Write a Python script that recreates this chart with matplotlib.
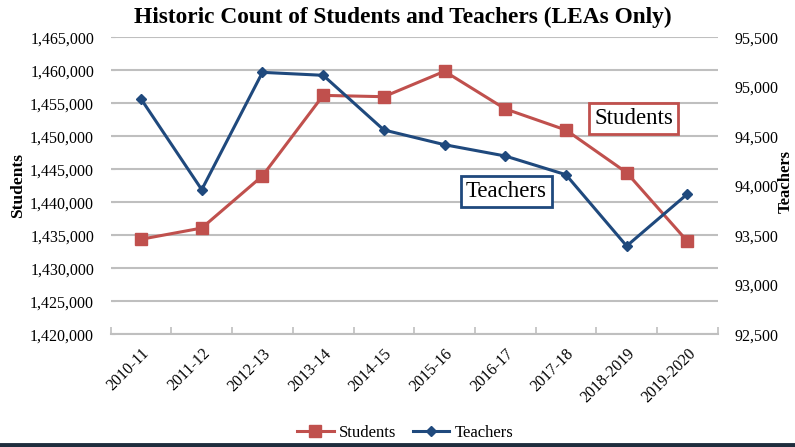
import matplotlib
matplotlib.use("Agg")
import matplotlib.pyplot as plt
from matplotlib.ticker import FuncFormatter, MultipleLocator

plt.rcParams['font.family'] = ['Liberation Serif', 'DejaVu Serif']

years = ["2010-11", "2011-12", "2012-13", "2013-14", "2014-15", "2015-16",
         "2016-17", "2017-18", "2018-2019", "2019-2020"]
students = [1434400, 1436100, 1444000, 1456200, 1456000, 1459850,
            1454150, 1450950, 1444500, 1434100]
teachers = [94877, 93961, 95146, 95116, 94564, 94415, 94301, 94112, 93392, 93917]

red = "#C0504D"
blue = "#1F497D"

fig = plt.figure(figsize=(7.95, 4.47), dpi=100)
ax = fig.add_axes([110.7/795, 1-334.3/447, (717.7-110.7)/795, (334.3-37.3)/447])
ax2 = ax.twinx()

x = list(range(len(years)))
l1, = ax.plot(x, students, color=red, lw=2.2, marker='s', ms=8, label="Students", zorder=3)
l2, = ax2.plot(x, teachers, color=blue, lw=2.2, marker='D', ms=5.5, label="Teachers", zorder=3)

ax.set_xlim(-0.5, len(years)-0.5)
ax.set_ylim(1420000, 1465000)
ax2.set_ylim(92500, 95500)
ax.yaxis.set_major_locator(MultipleLocator(5000))
ax2.yaxis.set_major_locator(MultipleLocator(500))
fmt = FuncFormatter(lambda v, p: f"{int(round(v)):,}")
ax.yaxis.set_major_formatter(fmt)
ax2.yaxis.set_major_formatter(fmt)

ax.grid(axis='y', color='#bfbfbf', lw=1.5)
ax.set_axisbelow(True)
for a in (ax, ax2):
    for s in ['top', 'left', 'right']:
        a.spines[s].set_visible(False)
ax.spines['bottom'].set_color('#bfbfbf')
ax.spines['bottom'].set_linewidth(1.5)
ax2.spines['bottom'].set_visible(False)

ax.set_xticks([i - 0.5 for i in range(len(years)+1)], minor=False)
ax.set_xticklabels([])
ax.set_xticks(x, minor=True)
ax.set_xticklabels(years, minor=True, rotation=45, ha='right', rotation_mode='anchor', fontsize=11.5)
ax.tick_params(axis='x', which='major', direction='in', length=5, color='#bfbfbf', width=1.2)
ax.tick_params(axis='x', which='minor', length=0, pad=8)
ax.tick_params(axis='y', direction='in', length=3, color='#bfbfbf', labelsize=11.5, pad=12)
ax2.tick_params(axis='y', length=0, labelsize=11.5, pad=12)

fig.text(18/795, 1-185/447, "Students", rotation=90, ha='center', va='center',
         fontsize=12.5, fontweight='bold')
fig.text(786/795, 1-182/447, "Teachers", rotation=90, ha='center', va='center',
         fontsize=12, fontweight='bold')
fig.text(403/795, 1-17/447, "Historic Count of Students and Teachers (LEAs Only)",
         ha='center', va='center', fontsize=16.8, fontweight='bold')

ax2.text(8.12, 94680, "Students", fontsize=16.5, ha='center', va='center',
         bbox=dict(boxstyle='square,pad=0.22', fc='white', ec=red, lw=2), zorder=5)
ax2.text(6.02, 93945, "Teachers", fontsize=16.5, ha='center', va='center',
         bbox=dict(boxstyle='square,pad=0.22', fc='white', ec=blue, lw=2), zorder=5)

fig.legend(handles=[l1, l2], loc='center', bbox_to_anchor=(405/795, 1-433/447),
           ncol=2, frameon=False, fontsize=12, handlelength=2.2, columnspacing=1.0,
           handletextpad=0.3, borderaxespad=0)

fig.add_artist(plt.Line2D([0, 1], [1-444.5/447, 1-444.5/447], color='#1f2d3d', lw=3.5,
                          transform=fig.transFigure))

fig.savefig("out.png", dpi=100)
